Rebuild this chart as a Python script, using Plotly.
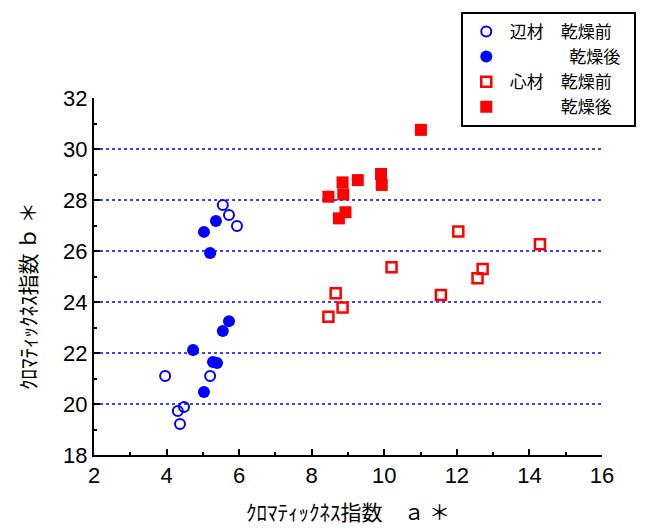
import plotly.graph_objects as go

# 辺材 (sapwood) – before / after drying
sap_before_a = [3.96, 4.31, 4.48, 4.37, 5.20, 5.55, 5.72, 5.94]
sap_before_b = [21.10, 19.73, 19.88, 19.22, 21.10, 27.80, 27.41, 26.98]
sap_after_a = [5.03, 5.36, 5.20, 4.73, 5.28, 5.39, 5.03, 5.72, 5.55]
sap_after_b = [26.75, 27.18, 25.92, 22.12, 21.65, 21.61, 20.47, 23.25, 22.86]

# 心材 (heartwood) – before / after drying
heart_before_a = [12.04, 14.29, 10.20, 12.71, 12.57, 8.66, 11.56, 8.85, 8.46]
heart_before_b = [26.76, 26.26, 25.36, 25.29, 24.93, 24.34, 24.27, 23.78, 23.42]
heart_after_a = [11.01, 9.91, 9.93, 9.27, 8.85, 8.87, 8.46, 8.93, 8.75]
heart_after_b = [30.75, 29.02, 28.59, 28.78, 28.69, 28.22, 28.13, 27.52, 27.28]

series_names = ["辺材　乾燥前", "　　　\u2002乾燥後\u2002", "心材　乾燥前", "　　　乾燥後"]
grid_levels = [20, 22, 24, 26, 28, 30]
x_title = "ｸﾛﾏﾃｨｯｸﾈｽ指数　ａ ＊"
y_title = "ｸﾛﾏﾃｨｯｸﾈｽ指数 ｂ ＊"

BLUE = "#0000ff"
RED = "#ff0000"
NUM_FONT = "Liberation Sans Narrow, Liberation Sans, Arial, sans-serif"
JP_FONT = "Noto Sans CJK JP, sans-serif"

fig = go.Figure()
fig.add_trace(go.Scatter(
    x=sap_before_a, y=sap_before_b, mode="markers", name=series_names[0],
    marker=dict(symbol="circle-open", size=10, color=BLUE, line=dict(width=2, color=BLUE)),
))
fig.add_trace(go.Scatter(
    x=sap_after_a, y=sap_after_b, mode="markers", name=series_names[1],
    marker=dict(symbol="circle", size=12, color=BLUE),
))
fig.add_trace(go.Scatter(
    x=heart_before_a, y=heart_before_b, mode="markers", name=series_names[2],
    marker=dict(symbol="square-open", size=10, color=RED, line=dict(width=2.5, color=RED)),
))
fig.add_trace(go.Scatter(
    x=heart_after_a, y=heart_after_b, mode="markers", name=series_names[3],
    marker=dict(symbol="square", size=12, color=RED),
))

for v in grid_levels:
    fig.add_hline(y=v, line=dict(color=BLUE, width=1.5, dash="dot"), layer="below")

axis_common = dict(
    showline=True, linecolor="black", linewidth=2, mirror=False,
    ticks="inside", ticklen=6, tickwidth=1.5, tickcolor="black",
    showgrid=False, zeroline=False,
    tickfont=dict(family=NUM_FONT, size=22, color="black"),
)

fig.update_xaxes(
    range=[2, 16], dtick=2, tick0=2,
    minor=dict(ticks="inside", ticklen=3, dtick=1, tickcolor="black", tickwidth=1.5),
    title=dict(text=x_title, font=dict(family=JP_FONT, size=21, color="black"), standoff=18),
    **axis_common,
)
fig.update_yaxes(
    range=[18, 32], dtick=2, tick0=18,
    minor=dict(ticks="inside", ticklen=3, dtick=1, tickcolor="black", tickwidth=1.5),
    **axis_common,
)

# vertical axis title, placed left of the tick labels
fig.add_annotation(
    text=y_title, textangle=-90, showarrow=False,
    xref="paper", yref="paper", x=-0.132, y=0.445,
    xanchor="center", yanchor="middle",
    font=dict(family=JP_FONT, size=21, color="black"),
)

fig.update_layout(
    width=648, height=532,
    margin=dict(l=94, r=46, t=98, b=77),
    plot_bgcolor="white", paper_bgcolor="white",
    showlegend=True,
    legend=dict(
        x=0.722, y=1.241, xanchor="left", yanchor="top",
        bordercolor="black", borderwidth=2, bgcolor="white",
        font=dict(family=JP_FONT, size=17, color="black"),
        itemwidth=37, tracegroupgap=0,
    ),
)

fig.write_html("out.html")
